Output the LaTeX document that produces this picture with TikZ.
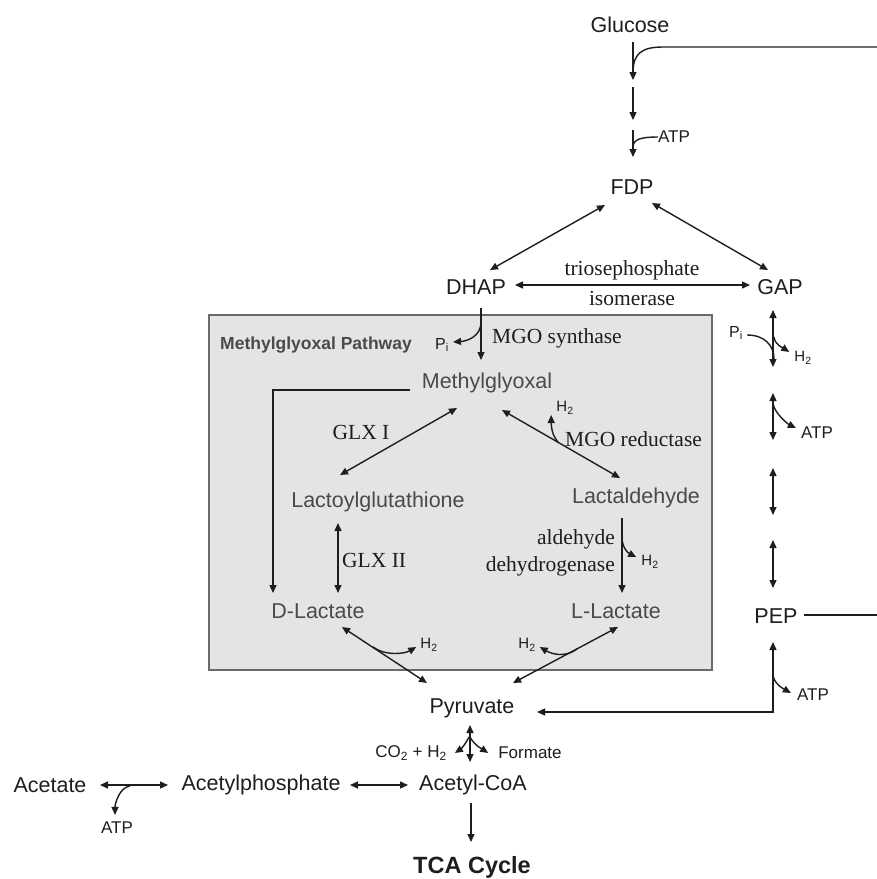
\documentclass[tikz,border=0pt]{standalone}
\usepackage{fontspec}
\setmainfont{Liberation Sans}
\newfontfamily\serifl{Liberation Serif}
\usetikzlibrary{arrows.meta}
\definecolor{ink}{HTML}{1E1E1E}
\definecolor{inbox}{HTML}{4A4A4A}
\definecolor{boxfill}{HTML}{E4E4E4}
\definecolor{boxline}{HTML}{6A6A6A}
\tikzset{
  lbl/.style={inner sep=0pt, text=ink, font=\fontsize{21.5}{24}\selectfont},
  blbl/.style={lbl, text=inbox},
  enz/.style={inner sep=0pt, text=ink, font=\serifl\fontsize{21.5}{27}\selectfont},
  sm/.style={inner sep=0pt, text=ink, font=\fontsize{17}{19}\selectfont},
  hh/.style={inner sep=0pt, text=ink, font=\fontsize{15}{17}\selectfont},
  con/.style={line width=1.4pt, draw=ink},
}
\begin{document}
\begin{tikzpicture}[x=1pt,y=-1pt,>={Triangle[length=8pt,width=7pt]}]
\useasboundingbox (0,0) rectangle (877,879);
\fill[white] (0,0) rectangle (877,879);
\filldraw[fill=boxfill, draw=boxline, line width=2pt] (209,315) rectangle (712,670);

% nodes
\node[lbl] (glc) at (630,25) {Glucose};
\node[lbl] (fdp) at (632,187) {FDP};
\node[lbl] (dhap) at (476,287) {DHAP};
\node[lbl] (gap) at (780,287) {GAP};
\node[enz] (tpi1) at (632,270) {triosephosphate};
\node[enz] (tpi2) at (632,298) {isomerase};
\node[inner sep=0pt, text=inbox, font=\bfseries\fontsize{17.5}{20}\selectfont, anchor=west] (mgp) at (220,345) {Methylglyoxal Pathway};
\node[sm, font=\fontsize{16}{18}\selectfont] (pi1) at (442,345) {P\textsubscript{i}};
\node[enz, anchor=west] (mgos) at (492,338) {MGO synthase};
\node[blbl] (mgo) at (487,383) {Methylglyoxal};
\node[enz] (glx1) at (361,432) {GLX I};
\node[blbl] (lgsh) at (378,502) {Lactoylglutathione};
\node[enz, anchor=west] (glx2) at (342,560) {GLX II};
\node[blbl] (dlac) at (318,611) {D-Lactate};
\node[blbl] (lald) at (636,498) {Lactaldehyde};
\node[blbl] (llac) at (616,611) {L-Lactate};
\node[enz, anchor=west] (mgor) at (565,439) {MGO reductase};
\node[enz, anchor=east, align=right] (aldh) at (615,553) {aldehyde\\dehydrogenase};
\node[hh] (h2a) at (565,408) {H\textsubscript{2}};
\node[hh] (h2b) at (650,562) {H\textsubscript{2}};
\node[hh] (h2c) at (429,645) {H\textsubscript{2}};
\node[hh] (h2d) at (527,645) {H\textsubscript{2}};
\node[lbl] (pyr) at (472,708) {Pyruvate};
\node[lbl] (pep) at (776,616) {PEP};
\node[sm, font=\fontsize{16}{18}\selectfont] (pi2) at (736,333) {P\textsubscript{i}};
\node[hh] (h2e) at (803,358) {H\textsubscript{2}};
\node[sm] (atp1) at (674,137) {ATP};
\node[sm] (atp2) at (817,433) {ATP};
\node[sm] (atp3) at (813,695) {ATP};
\node[sm] (co2) at (411,753) {CO\textsubscript{2} + H\textsubscript{2}};
\node[sm] (form) at (530,753) {Formate};
\node[lbl] (acet) at (50,785) {Acetate};
\node[sm] (atp4) at (117,828) {ATP};
\node[lbl] (acp) at (261,785) {Acetylphosphate};
\node[lbl] (accoa) at (473,785) {Acetyl-CoA};
\node[lbl, font=\bfseries\fontsize{23.5}{26}\selectfont] (tca) at (472,867) {TCA Cycle};
\coordinate (gin) at (877,47);
\coordinate (pepout) at (877,615);

% glucose chain
\draw[con,->] ([shift={(3,17)}]glc.center) -- ([shift={(3,55)}]glc.center);
\draw[con] (gin) -- (663,47) .. controls (641,47) and (633,54) .. ([shift={(3,48)}]glc.center);
\draw[con,->] ([shift={(1,-100)}]fdp.center) -- ([shift={(1,-67)}]fdp.center);
\draw[con,->] ([shift={(1,-57)}]fdp.center) -- ([shift={(1,-30)}]fdp.center);
\draw[con] (atp1.west) .. controls +(-16,0) and +(0,-8) .. ([shift={(1,-40)}]fdp.center);

% FDP / triose
\draw[con,<->] ([shift={(-27,18)}]fdp.center) -- ([shift={(14,-17)}]dhap.center);
\draw[con,<->] ([shift={(20,16)}]fdp.center) -- ([shift={(-12,-17)}]gap.center);
\draw[con,<->] ([shift={(39,-2)}]dhap.center) -- ([shift={(-30,-2)}]gap.center);

% DHAP -> Methylglyoxal
\draw[con,->] ([shift={(5,21)}]dhap.center) -- ([shift={(-6,-23)}]mgo.center);
\draw[con,->] ([shift={(5,35)}]dhap.center) .. controls +(0,14) and +(15,-1) .. ([shift={(4,-3)}]pi1.east);

% methylglyoxal pathway
\draw[con,->] ([shift={(-77,7)}]mgo.center) -| ([shift={(-45,-18)}]dlac.center);
\draw[con,<->] ([shift={(-30,25)}]mgo.center) -- ([shift={(-38,-27)}]lgsh.center);
\draw[con,<->] ([shift={(-40,21)}]lgsh.center) -- ([shift={(20,-18)}]dlac.center);
\draw[con,<->] ([shift={(15,27)}]mgo.center) -- ([shift={(-16,-20)}]lald.center);
\draw[con,->] ([shift={(71,59)}]mgo.center) .. controls +(-6,-7) and +(0,12) .. ([shift={(-5,7)}]h2a.west);
\draw[con,->] ([shift={(-14,20)}]lald.center) -- ([shift={(6,-18)}]llac.center);
\draw[con,->] ([shift={(-14,39)}]lald.center) .. controls +(0,11) and +(-8,-4) .. ([shift={(-5,-5)}]h2b.west);

% lactates -> pyruvate
\draw[con,<->] ([shift={(24,16)}]dlac.center) -- ([shift={(-45,-25)}]pyr.center);
\draw[con,->] ([shift={(55,36)}]dlac.center) .. controls +(12,9) and +(-12,7) .. ([shift={(-4,2)}]h2c.west);
\draw[con,<->] ([shift={(2,16)}]llac.center) -- ([shift={(41,-25)}]pyr.center);
\draw[con,->] ([shift={(-39,38)}]llac.center) .. controls +(-12,9) and +(12,7) .. ([shift={(4,2)}]h2d.east);

% PEP -> pyruvate
\draw[con,<->] ([shift={(-3,26)}]pep.center) |- ([shift={(65,4)}]pyr.center);
\draw[con,->] ([shift={(-3,59)}]pep.center) .. controls +(1,9) and +(-7,-4) .. ([shift={(-6,-2)}]atp3.west);
\draw[con] ([shift={(28,-1)}]pep.center) -- (pepout);

% GAP column
\draw[con,<->] ([shift={(-7,23)}]gap.center) -- ([shift={(-7,80)}]gap.center);
\draw[con] ([shift={(4,2)}]pi2.east) .. controls +(17,0) and +(0,-14) .. ([shift={(-6,72)}]gap.center);
\draw[con,->] ([shift={(-6,50)}]gap.center) .. controls +(1,8) and +(-6,-4) .. ([shift={(-5,-6)}]h2e.west);
\draw[con,<->] ([shift={(-7,106)}]gap.center) -- ([shift={(-7,153)}]gap.center);
\draw[con,->] ([shift={(-7,116)}]gap.center) .. controls +(1,10) and +(-8,-4) .. ([shift={(-5,-5)}]atp2.west);
\draw[con,<->] ([shift={(-3,-148)}]pep.center) -- ([shift={(-3,-101)}]pep.center);
\draw[con,<->] ([shift={(-3,-76)}]pep.center) -- ([shift={(-3,-28)}]pep.center);

% pyruvate fork
\draw[con,<->] ([shift={(-2,17)}]pyr.center) -- ([shift={(-2,54)}]pyr.center);
\draw[con,->] ([shift={(-3,29)}]pyr.center) .. controls +(-4,8) and +(6,-4) .. ([shift={(8,0)}]co2.east);
\draw[con,->] ([shift={(-2,29)}]pyr.center) .. controls +(4,8) and +(-6,-4) .. ([shift={(-10,0)}]form.west);

% bottom row
\draw[con,<->] ([shift={(50,0)}]acet.center) -- ([shift={(-93,0)}]acp.center);
\draw[con,->] ([shift={(80,1)}]acet.center) .. controls +(-10,1) and +(0,-12) .. ([shift={(-2,-7)}]atp4.north);
\draw[con,<->] ([shift={(89,0)}]acp.center) -- ([shift={(-65,0)}]accoa.center);
\draw[con,->] ([shift={(-2,18)}]accoa.center) -- ([shift={(-1,-25)}]tca.center);
\end{tikzpicture}
\end{document}
